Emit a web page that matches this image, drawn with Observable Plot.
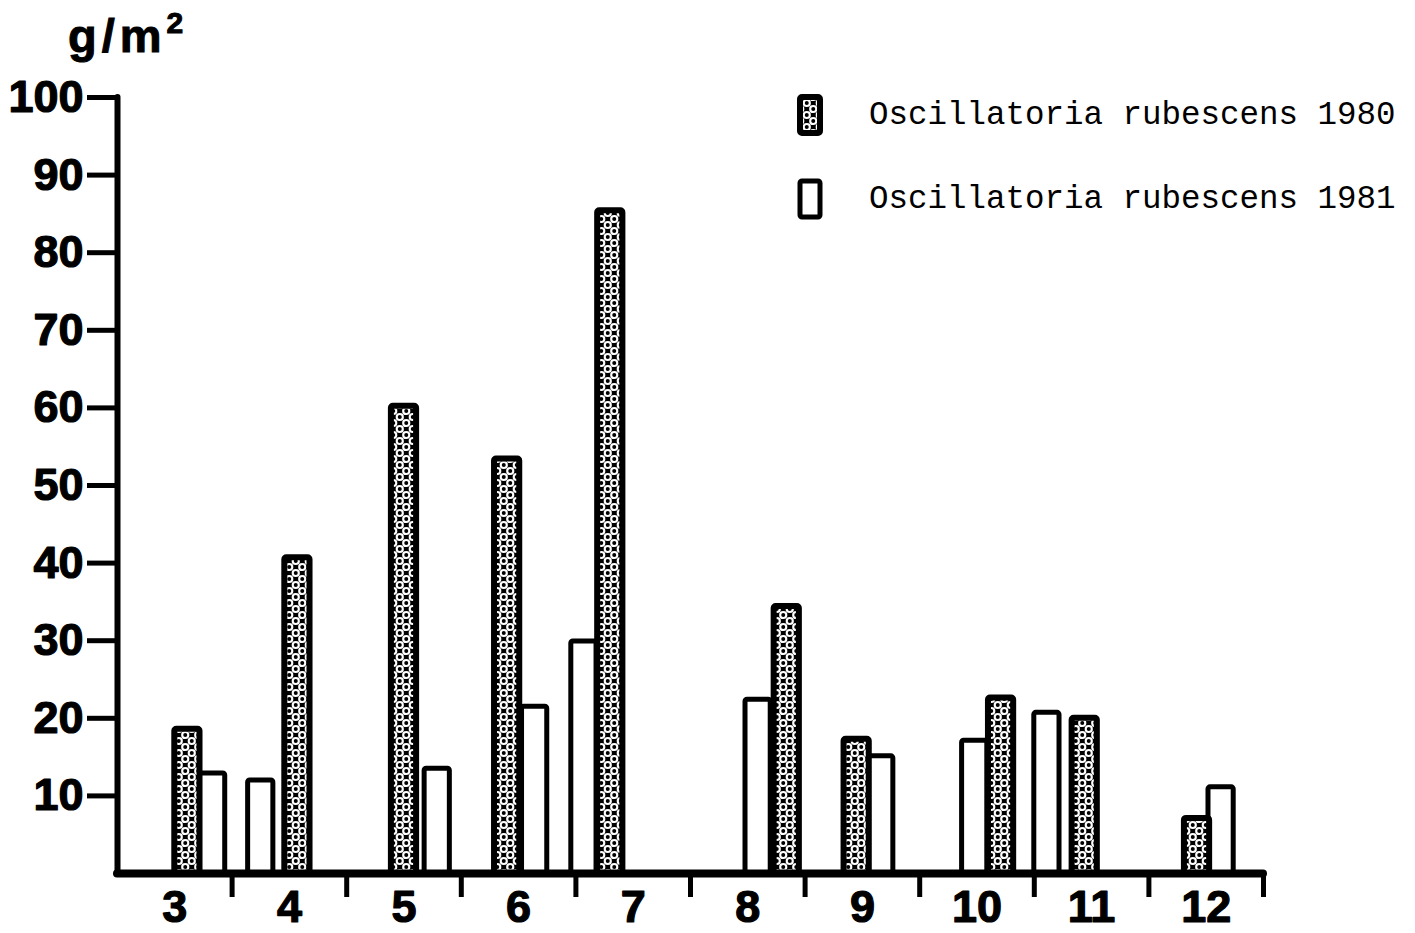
<!DOCTYPE html>
<html><head><meta charset="utf-8">
<script src="https://cdn.jsdelivr.net/npm/d3@7"></script>
<script src="https://cdn.jsdelivr.net/npm/@observablehq/plot@0.6"></script>
<style>
body{margin:0;background:#fff;}
#wrap{position:relative;width:1415px;height:933px;overflow:hidden;background:#fff;}
#wrap svg.plot{position:absolute;left:0;top:0;}
#unit{position:absolute;left:68px;top:10px;font:bold 47px "Liberation Sans",Arial,sans-serif;color:#000;line-height:1;letter-spacing:5px;-webkit-text-stroke:1px #000;}
#unit sup{font-size:30px;position:relative;top:-2px;letter-spacing:0;}
.leg{position:absolute;left:797px;display:flex;align-items:center;font:32.5px "Liberation Mono","DejaVu Sans Mono",monospace;color:#000;white-space:nowrap;}
.leg svg{margin-right:46px;}
</style></head><body><div id="wrap"></div>
<script>
// Months (x categories) and tick data
const months = [3, 4, 5, 6, 7, 8, 9, 10, 11, 12];
const monthBounds = [3.5, 4.5, 5.5, 6.5, 7.5, 8.5, 9.5, 10.5, 11.5, 12.5];
const yTicks = [10, 20, 30, 40, 50, 60, 70, 80, 90, 100];
const seriesNames = ["Oscillatoria rubescens 1980", "Oscillatoria rubescens 1981"];
const unitLabel = "g/m";

// Sampling positions (in month units) and biomass values
const pos1980 = [3.11, 4.07, 5.00, 5.90, 6.80, 8.34, 8.95, 10.21, 10.94, 11.92];
const val1980 = [18.6, 40.7, 60.2, 53.4, 85.4, 34.4, 17.3, 22.6, 20.0, 7.1];
const pos1981 = [3.33, 3.75, 5.29, 6.14, 6.57, 8.09, 9.16, 9.98, 10.61, 12.13];
const val1981 = [12.9, 12.0, 13.5, 21.5, 29.9, 22.4, 15.1, 17.1, 20.7, 11.1];

const W = 0.22; // bar width in month units
const d1980 = pos1980.map((p, i) => ({pos: p, value: val1980[i]}));
const d1981 = pos1981.map((p, i) => ({pos: p, value: val1981[i]}));

const plot = Plot.plot({
  width: 1415, height: 933,
  marginLeft: 117, marginRight: 152, marginTop: 97, marginBottom: 60,
  x: {type: "linear", domain: [2.5, 12.5], axis: null},
  y: {domain: [0, 100], axis: null},
  style: {fontFamily: '"Liberation Sans", Arial, sans-serif', background: "white", color: "black", overflow: "visible"},
  marks: [
    Plot.rect(d1981, {x1: d => d.pos - W / 2, x2: d => d.pos + W / 2, y1: 0, y2: "value", fill: "white", stroke: "black", strokeWidth: 5, rx: 2}),
    Plot.rect(d1980, {x1: d => d.pos - W / 2, x2: d => d.pos + W / 2, y1: 0, y2: "value", fill: "black", stroke: "black", strokeWidth: 6, rx: 2, className: "stip"}),
    Plot.ruleX([2.5], {strokeWidth: 6, strokeLinecap: "round"}),
    Plot.ruleY([0], {strokeWidth: 8, strokeLinecap: "round"}),
    Plot.axisY(yTicks, {anchor: "left", tickSize: 30, strokeWidth: 5, fontSize: 45, fontWeight: "bold", tickPadding: 4, textStroke: "black", textStrokeWidth: 1.2, tickFormat: d => String(d), label: null}),
    Plot.axisX(monthBounds, {anchor: "bottom", tickSize: 24, strokeWidth: 5, tickFormat: () => "", label: null}),
    Plot.axisX(months, {anchor: "bottom", tickSize: 0, fontSize: 45, fontWeight: "bold", tickPadding: 17, textStroke: "black", textStrokeWidth: 1.2, tickFormat: d => String(d), label: null})
  ]
});

const ns = "http://www.w3.org/2000/svg";
const defs = document.createElementNS(ns, "defs");
defs.innerHTML = `<pattern id="stipple" patternUnits="userSpaceOnUse" width="13" height="12">
  <rect width="13" height="12" fill="black"/>
  <g fill="white">
    <circle cx="3.25" cy="3" r="4.1"/><circle cx="3.25" cy="15" r="4.1"/><circle cx="16.25" cy="3" r="4.1"/><circle cx="16.25" cy="15" r="4.1"/>
    <circle cx="9.75" cy="9" r="4.1"/><circle cx="9.75" cy="-3" r="4.1"/><circle cx="-3.25" cy="9" r="4.1"/><circle cx="-3.25" cy="-3" r="4.1"/>
  </g>
  <g fill="black">
    <circle cx="3.25" cy="3" r="2"/><circle cx="9.75" cy="9" r="2"/>
  </g>
</pattern>`;
plot.insertBefore(defs, plot.firstChild);
const stip = plot.querySelector(".stip");
if (stip) stip.setAttribute("fill", "url(#stipple)");
plot.classList.add("plot");

const wrap = document.getElementById("wrap");
wrap.appendChild(plot);

const unit = document.createElement("div");
unit.id = "unit";
unit.innerHTML = unitLabel + "<sup>2</sup>";
wrap.appendChild(unit);

const legTops = [94, 178];
seriesNames.forEach((name, i) => {
  const row = document.createElement("div");
  row.className = "leg";
  row.style.top = legTops[i] + "px";
  const fill = i === 0 ? "url(#stipple)" : "white";
  row.innerHTML = `<svg width="26" height="42"><rect x="3" y="3" width="20" height="36" rx="2" fill="${fill}" stroke="black" stroke-width="${i === 0 ? 6 : 5}"/></svg><span>${name}</span>`;
  wrap.appendChild(row);
});
</script>
</body></html>
